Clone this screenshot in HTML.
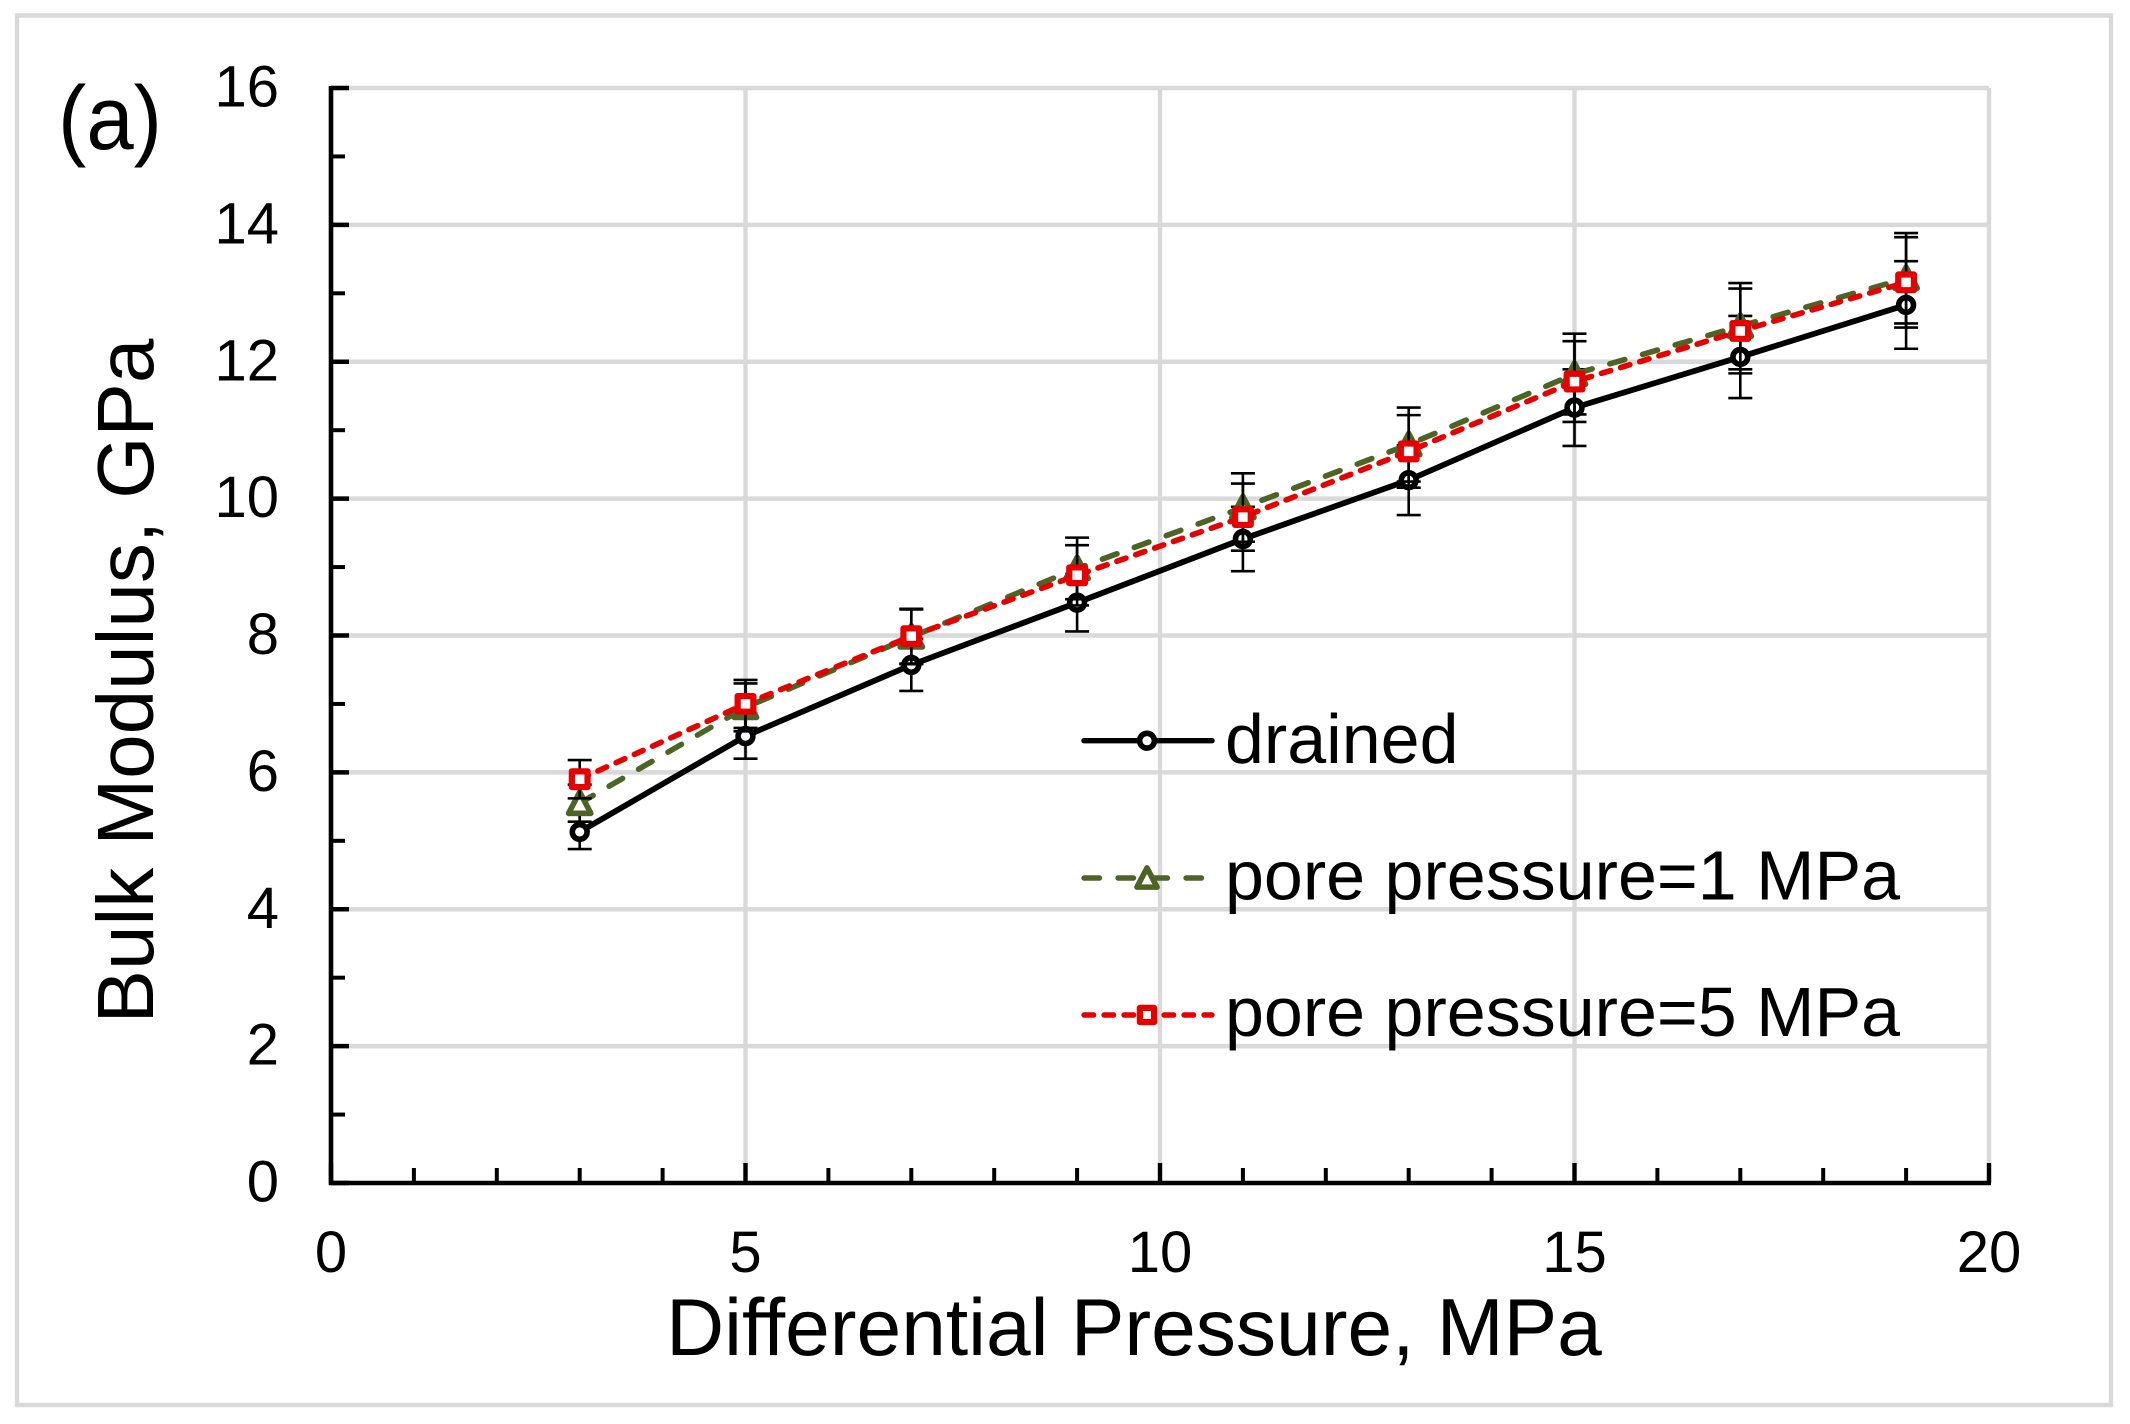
<!DOCTYPE html>
<html lang="en">
<head>
<meta charset="utf-8">
<title>Bulk Modulus vs Differential Pressure</title>
<style>
html,body{margin:0;padding:0;background:#fff;}
svg{display:block;}
text{font-family:"Liberation Sans",sans-serif;fill:#000;}
</style>
</head>
<body>
<svg id="chart" xmlns="http://www.w3.org/2000/svg" width="2130" height="1424" viewBox="0 0 2130 1424">
  <rect x="0" y="0" width="2130" height="1424" fill="#fff"/>
  <rect x="17" y="15.5" width="2094" height="1389.5" fill="none" stroke="#d9d9d9" stroke-width="4.4"/>
  <g id="grid"></g>
  <g id="axes"></g>
  <g id="series"></g>
  <g id="legend"></g>
  <text x="58" y="149" font-size="90" textLength="104" lengthAdjust="spacingAndGlyphs">(a)</text>
  <text x="1134" y="1355" font-size="80.3" text-anchor="middle">Differential Pressure, MPa</text>
  <text transform="translate(153 681) rotate(-90)" font-size="80" text-anchor="middle">Bulk Modulus, GPa</text>
</svg>
<script>
const pressures = [3, 5, 7, 9, 11, 13, 15, 17, 19];
const drainedValues = [5.13, 6.53, 7.57, 8.48, 9.41, 10.27, 11.33, 12.07, 12.83];
const pore1Values = [5.55, 6.95, 7.98, 8.98, 9.87, 10.79, 11.82, 12.52, 13.22];
const pore5Values = [5.90, 7.00, 7.99, 8.88, 9.73, 10.69, 11.71, 12.45, 13.16];
const drainedErrors = [0.25, 0.33, 0.38, 0.42, 0.47, 0.51, 0.56, 0.60, 0.64];
const pore1Errors = [0.27, 0.35, 0.40, 0.45, 0.50, 0.54, 0.59, 0.63, 0.66];
const pore5Errors = [0.28, 0.35, 0.40, 0.44, 0.49, 0.53, 0.59, 0.62, 0.66];
const seriesNames = ["drained", "pore pressure=1 MPa", "pore pressure=5 MPa"];
const xTickLabels = [0, 5, 10, 15, 20];
const yTickLabels = [0, 2, 4, 6, 8, 10, 12, 14, 16];
const xMinorValues = [1, 2, 3, 4, 6, 7, 8, 9, 11, 12, 13, 14, 16, 17, 18, 19];
const yMinorValues = [1, 3, 5, 7, 9, 11, 13, 15];

const NS = "http://www.w3.org/2000/svg";
const PLOT = {left: 331, right: 1989, top: 88, bottom: 1183, xMax: 20, yMax: 16};
function xScale(v) { return PLOT.left + (PLOT.right - PLOT.left) * v / PLOT.xMax; }
function yScale(v) { return PLOT.bottom - (PLOT.bottom - PLOT.top) * v / PLOT.yMax; }
function make(tag, parent, attrs, content) {
  const el = document.createElementNS(NS, tag);
  for (const k in attrs) el.setAttribute(k, attrs[k]);
  if (content !== undefined) el.textContent = content;
  parent.appendChild(el);
  return el;
}

const gridG = document.getElementById("grid");
const axesG = document.getElementById("axes");
const seriesG = document.getElementById("series");
const legendG = document.getElementById("legend");

yTickLabels.forEach(function (v) {
  if (v === 0) return;
  const gl = make("line", gridG, {x1: PLOT.left, x2: PLOT.right, y1: yScale(v), y2: yScale(v), stroke: "#d9d9d9", "stroke-width": 4.4});
  
  
});
xTickLabels.forEach(function (v) {
  if (v === 0) return;
  const gl = make("line", gridG, {x1: xScale(v), x2: xScale(v), y1: PLOT.top, y2: PLOT.bottom, stroke: "#d9d9d9", "stroke-width": 4.4});
  
  
});

const yAxisLine = make("line", axesG, {x1: PLOT.left, x2: PLOT.left, y1: PLOT.top - 2, y2: PLOT.bottom + 2, stroke: "#000", "stroke-width": 4.6});


const xAxisLine = make("line", axesG, {x1: PLOT.left - 2, x2: PLOT.right + 2, y1: PLOT.bottom, y2: PLOT.bottom, stroke: "#000", "stroke-width": 4.6});



yTickLabels.forEach(function (v) {
  const t = make("line", axesG, {x1: PLOT.left, x2: PLOT.left + 18, y1: yScale(v), y2: yScale(v), stroke: "#000", "stroke-width": 4.4});
  
  
  const l = make("text", axesG, {x: 279, y: yScale(v) + 18.5, "font-size": 58, "text-anchor": "end"}, String(v));
  
  
});
yMinorValues.forEach(function (v) {
  const t = make("line", axesG, {x1: PLOT.left, x2: PLOT.left + 14, y1: yScale(v), y2: yScale(v), stroke: "#000", "stroke-width": 4});
  
  
});
xTickLabels.forEach(function (v) {
  const t = make("line", axesG, {x1: xScale(v), x2: xScale(v), y1: PLOT.bottom, y2: PLOT.bottom - 20, stroke: "#000", "stroke-width": 4.4});
  
  
  const l = make("text", axesG, {x: xScale(v), y: 1272, "font-size": 58, "text-anchor": "middle"}, String(v));
  
  
});
xMinorValues.forEach(function (v) {
  const t = make("line", axesG, {x1: xScale(v), x2: xScale(v), y1: PLOT.bottom, y2: PLOT.bottom - 15, stroke: "#000", "stroke-width": 4});
  
  
});

const STYLES = [
  {color: "#000000", dash: "none", marker: "circle", width: 5.8},
  {color: "#4d6425", dash: "15.5 18.5", marker: "triangle", width: 5.6},
  {color: "#e60000", dash: "9.6 10.4", marker: "square", width: 5.6}
];
function drawMarker(parent, kind, cx, cy, color, scale) {
  if (kind === "circle") {
    return make("circle", parent, {cx: cx, cy: cy, r: 7.4, fill: "#fff", stroke: color, "stroke-width": 5.6});
  }
  if (kind === "square") {
    const s = 7.4 * scale;
    return make("rect", parent, {x: cx - s, y: cy - s, width: 2 * s, height: 2 * s, fill: "#fff", stroke: color, "stroke-width": 6.2, "stroke-linejoin": "round"});
  }
  const pts = [[cx, cy - 10.5 * scale], [cx + 10.5 * scale, cy + 9.5 * scale], [cx - 10.5 * scale, cy + 9.5 * scale]].map(function (p) { return p.join(","); }).join(" ");
  return make("polygon", parent, {points: pts, fill: "#fff", stroke: color, "stroke-width": 5.6, "stroke-linejoin": "round"});
}
function drawSeries(idx, values, errors) {
  const st = STYLES[idx];
  const g = make("g", seriesG, {});
  
  
  values.forEach(function (v, i) {
    const x = xScale(pressures[i]);
    const hi = yScale(v + errors[i]);
    const lo = yScale(v - errors[i]);
    const eb = make("path", g, {d: "M" + x + " " + hi + "V" + lo + "M" + (x - 12) + " " + hi + "H" + (x + 12) + "M" + (x - 12) + " " + lo + "H" + (x + 12), fill: "none", stroke: "#000", "stroke-width": 2.6});
    
    
  });
  const pts = values.map(function (v, i) { return xScale(pressures[i]) + "," + yScale(v); }).join(" ");
  const attrs = {points: pts, fill: "none", stroke: st.color, "stroke-width": st.width, "stroke-linecap": "round", "stroke-linejoin": "round"};
  if (st.dash !== "none") attrs["stroke-dasharray"] = st.dash;
  const ln = make("polyline", g, attrs);
  
  
  values.forEach(function (v, i) {
    const m = drawMarker(g, st.marker, xScale(pressures[i]), yScale(v), st.color, 1.06);
    
    
  });
}
drawSeries(0, drainedValues, drainedErrors);
drawSeries(1, pore1Values, pore1Errors);
drawSeries(2, pore5Values, pore5Errors);

const legendRows = [740.7, 878, 1015];
const legendBaselines = [763, 899.5, 1036];
seriesNames.forEach(function (name, i) {
  const st = STYLES[i];
  const g = make("g", legendG, {});
  
  
  const attrs = {x1: 1084, x2: 1212, y1: legendRows[i], y2: legendRows[i], stroke: st.color, "stroke-width": 5.4, "stroke-linecap": "round"};
  if (st.dash !== "none") attrs["stroke-dasharray"] = st.dash;
  const ln = make("line", g, attrs);
  
  
  const m = drawMarker(g, st.marker, 1147, legendRows[i], st.color, 0.96);
  
  
  const t = make("text", g, {x: 1225, y: legendBaselines[i], "font-size": 70}, name);
  
  
});
</script>
</body>
</html>
